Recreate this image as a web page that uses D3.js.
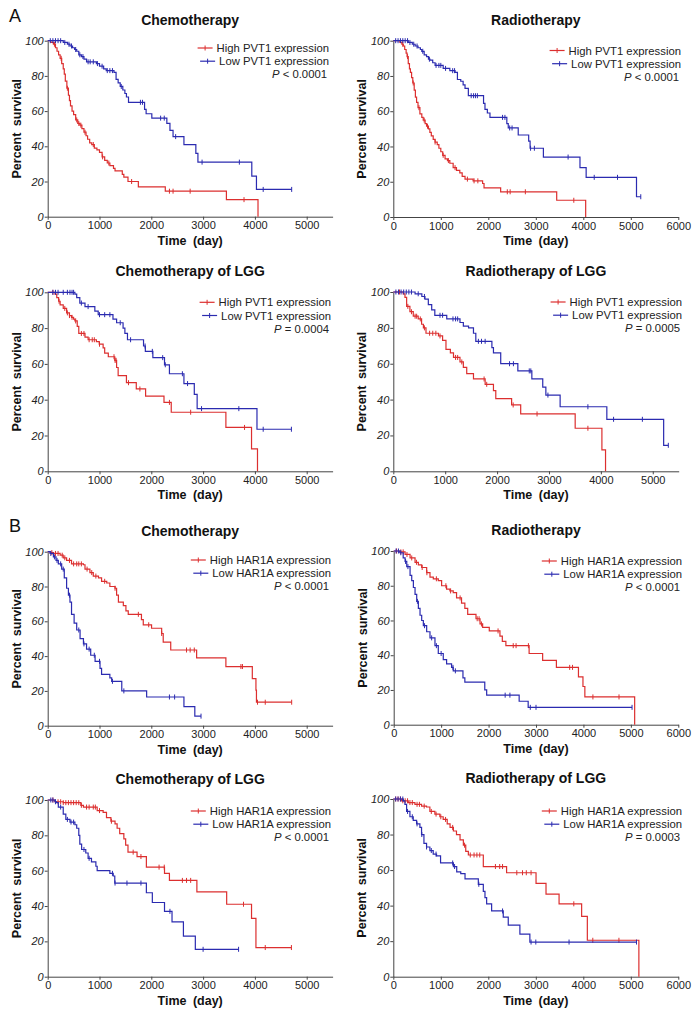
<!DOCTYPE html>
<html><head><meta charset="utf-8">
<script src="https://cdn.jsdelivr.net/npm/d3@7"></script>
<style>
html,body{margin:0;padding:0;background:#fff;}
svg{display:block;font-family:"Liberation Sans",Arial,sans-serif;}
</style></head>
<body>
<svg id="chart" width="700" height="1019"></svg>
<script>
// ---------------- DATA (time in days, survival in %) ----------------
const xTicks5000 = [0,1000,2000,3000,4000,5000];
const xTicks6000 = [0,1000,2000,3000,4000,5000,6000];
const yTicks = [0,20,40,60,80,100];
const panelTitles = ["Chemotherapy","Radiotherapy","Chemotherapy of LGG","Radiotherapy of LGG",
                     "Chemotherapy","Radiotherapy","Chemotherapy of LGG","Radiotherapy of LGG"];
const pLabels = ["< 0.0001","< 0.0001","= 0.0004","= 0.0005","< 0.0001","< 0.0001","< 0.0001","= 0.0003"];
const legendPVT1 = ["High PVT1 expression","Low PVT1 expression"];
const legendHAR1A = ["High HAR1A expression","Low HAR1A expression"];

// A - Chemotherapy (PVT1)
const a1HighSteps = [[60,99],[110,98],[150,96],[180,94],[210,92],[240,90],[270,87],[300,84],[320,81],[340,77],[370,73],[400,69],[420,66],[440,63],[470,60],[500,58],[540,55],[580,53],[620,52],[660,50],[700,48],[740,46],[770,44],[810,42],[850,41],[900,39],[950,38],[1000,36.5],[1050,34],[1100,32],[1150,30.5],[1200,29],[1270,27.5],[1300,26],[1440,24],[1470,22.5],[1550,20],[1750,17],[2270,14.5],[3450,9.7],[4060,0]];
const a1HighCensor = [130,260,380,560,600,640,720,880,1060,1180,1620,2350,2420,2750,3790];
const a1HighEnd = 4060;
const a1LowSteps = [[300,99],[380,98],[430,97],[480,96],[520,95],[560,94],[600,92],[650,91],[700,89.5],[750,88],[940,87],[1000,85.5],[1080,84],[1130,83],[1280,82],[1320,78],[1360,76],[1400,74],[1450,72],[1490,70],[1520,68],[1560,65],[1870,61],[1900,58.5],[2010,56],[2300,53],[2360,49],[2420,45.5],[2630,41],[2860,36],[2900,31],[3940,23],[4030,15.5]];
const a1LowCensor = [50,100,150,200,250,330,410,460,540,620,680,780,820,880,960,1050,1150,1200,1250,1420,1790,1830,2180,2250,2470,2980,3700,4160,4710];
const a1LowEnd = 4710;

// A - Radiotherapy (PVT1)
const a2HighSteps = [[140,99],[180,98],[210,97],[240,95],[270,93],[290,91],[315,87],[340,84],[360,82],[385,79],[410,76],[440,72],[465,68],[490,65],[520,62],[560,58.5],[600,56.5],[630,55],[670,53],[700,51.5],[740,50],[770,48],[800,46],[840,44],[880,42.5],[925,41],[960,39],[1000,37],[1040,35],[1090,33],[1140,32],[1190,30.5],[1260,28],[1330,26.5],[1400,25],[1450,23],[1510,21.5],[1680,20.5],[1880,19],[1910,16.5],[2260,14.3],[3440,9.5],[4050,0]];
const a2HighCensor = [200,300,420,540,650,720,880,1050,1160,1300,1560,1700,1780,2400,2460,2780,3800];
const a2HighEnd = 4050;
const a2LowSteps = [[315,99],[400,98],[460,97],[520,96],[570,95],[600,94],[650,92],[700,91],[740,89.5],[770,89],[830,87.5],[880,86],[1050,84.3],[1190,83],[1300,82],[1350,78],[1420,77],[1470,75],[1510,73],[1580,68.8],[1900,64.5],[1930,61],[1980,59],[2035,56.5],[2390,53],[2420,50.5],[2630,46.5],[2850,43],[2880,39],[3160,34],[3930,28],[4060,22.5],[5120,11.5]];
const a2LowCensor = [50,100,150,200,250,300,350,430,500,620,760,900,960,1000,1100,1250,1290,1640,1690,1730,1770,2300,2350,2450,2500,2890,2970,3680,4230,4720,5210];
const a2LowEnd = 5210;

// A - Chemotherapy of LGG (PVT1)
const a3HighSteps = [[140,99],[175,97],[210,95],[240,93],[300,91],[365,88.5],[420,87],[460,86],[500,85],[525,84],[570,81],[600,77],[720,75],[780,73.5],[940,72.5],[995,71],[1070,69],[1100,66],[1170,64],[1295,62],[1330,58],[1360,53.5],[1520,49.5],[1710,46],[1890,42],[2245,38.5],[2385,33],[3440,24.5],[3935,12.5],[4050,0]];
const a3HighCensor = [100,220,330,380,420,470,540,650,700,800,860,900,1000,1280,1300,1320,1560,1780,2350,2760,3800];
const a3HighEnd = 4050;
const a3LowSteps = [[525,99],[560,97],[620,94],[720,92],[910,89.5],[975,87.5],[1260,85],[1330,83],[1455,80],[1490,77],[1540,73.5],[1850,70],[1885,67],[2030,63.5],[2255,59.5],[2350,54.5],[2630,49],[2830,43],[2885,35],[4040,23.5]];
const a3LowCensor = [100,150,200,300,380,430,470,500,650,780,1000,1100,1200,1400,1600,1880,2020,2220,2270,2600,2700,2970,3690,4160,4705];
const a3LowEnd = 4705;

// A - Radiotherapy of LGG (PVT1)
const a4HighSteps = [[190,99],[225,97],[257,92],[320,89],[385,86.5],[480,85],[545,82],[580,80],[630,77],[870,75.5],[950,73],[1015,68],[1100,66],[1160,63.5],[1285,61],[1350,58],[1415,54.5],[1545,51.5],[1770,48.5],[1930,45],[1975,40.5],[2280,37],[2455,32],[3505,24],[4020,12],[4090,0]];
const a4HighCensor = [120,280,350,420,450,520,600,700,760,820,900,1200,1240,1320,1750,1800,2310,2770,3750];
const a4HighEnd = 4090;
const a4LowSteps = [[420,99],[550,97.5],[610,96],[675,93],[740,90],[800,87],[1030,85],[1285,83],[1350,81],[1450,80],[1545,77],[1590,72.5],[1900,69],[1930,66],[2070,60],[2400,56],[2670,51.5],[2880,47],[2940,42.5],[3215,36],[4115,29],[5210,14.5]];
const a4LowCensor = [50,100,150,200,250,300,350,480,600,900,950,1150,1200,1240,1640,1700,1770,2240,2315,2620,2650,2980,3750,4245,4800,5300];
const a4LowEnd = 5300;

// B - Chemotherapy (HAR1A)
const b1HighSteps = [[50,99.5],[110,99],[240,98],[300,96.5],[365,95],[460,93],[690,92.5],[720,90],[815,88],[880,86],[980,85],[1040,83],[1140,82],[1200,80],[1300,79],[1330,75],[1365,71],[1460,69],[1510,66],[1555,64],[1810,61],[1845,58],[2005,56],[2200,53],[2230,48],[2375,43.5],[2875,39],[3440,34],[3950,27],[4020,20.5],[4030,13.5]];
const b1HighCensor = [80,150,200,280,330,420,500,560,600,650,760,850,930,1100,1300,1750,1950,2200,2680,2750,2830,3730,3760,4050,4200,4710];
const b1HighEnd = 4710;
const b1LowSteps = [[45,99],[110,97],[160,95],[205,93],[270,90],[320,85],[365,79],[400,75],[430,71],[460,64],[510,59],[560,55],[625,50],[690,47],[750,44],[830,40.5],[915,37],[1010,33],[1040,29.5],[1200,27.5],[1235,25.5],[1430,20],[1910,16.5],[2630,11],[2840,5.5]];
const b1LowCensor = [60,130,180,250,300,420,600,700,800,900,1000,1250,1470,2350,2450,2960];
const b1LowEnd = 2960;

// B - Radiotherapy (HAR1A)
const b2HighSteps = [[130,99.5],[240,98],[345,96],[450,93.5],[520,92],[590,90.5],[695,87.5],[765,85],[835,84],[940,83],[1010,80],[1115,78],[1185,77],[1255,76],[1325,73],[1430,70],[1500,67],[1560,63.5],[1735,61],[1820,58],[1875,56],[2015,54],[2240,51],[2290,48],[2365,45.5],[2855,41],[3140,37],[3430,33],[3895,27.5],[3990,22],[4030,16],[5080,0]];
const b2HighCensor = [60,150,200,280,380,480,600,700,900,1100,1200,1400,1760,1800,1850,2200,2520,2580,2840,3710,3770,4200,4750];
const b2HighEnd = 5080;
const b2LowSteps = [[130,99],[200,96],[240,94],[275,91],[345,86],[380,83],[415,79],[450,75],[485,71],[520,67],[555,63],[590,60],[625,57],[695,53.5],[765,50],[870,45.5],[940,41],[1045,37.5],[1115,35],[1220,33],[1255,31],[1460,27],[1500,24.5],[1920,20],[1960,17],[2645,13.5],[2835,10]];
const b2LowCensor = [50,100,150,250,300,500,650,800,900,1000,1250,1300,2350,2450,2880,3000,5025];
const b2LowEnd = 5025;

// B - Chemotherapy of LGG (HAR1A)
const b3HighSteps = [[140,99],[300,98.5],[640,97],[690,96],[955,94],[1070,93],[1135,90],[1220,88],[1300,86.5],[1340,84],[1390,81],[1470,78],[1505,74.5],[1550,70.5],[1725,68],[1905,62],[2255,58.5],[2350,54.5],[2880,48],[3455,41],[3935,33],[4020,16.5]];
const b3HighCensor = [100,200,250,300,350,400,450,500,550,600,650,750,800,880,920,1000,1230,1650,1800,2150,2250,2600,2680,2760,3780,4200,4705];
const b3HighEnd = 4705;
const b3LowSteps = [[140,99],[170,98.5],[205,96],[300,92],[350,89],[430,87.5],[525,86],[560,84],[600,80],[620,75],[655,72],[735,70],[780,67],[845,65],[930,62.5],[955,60],[1200,58.5],[1265,57],[1295,53],[1905,47.5],[2020,42],[2255,37],[2400,31],[2620,23],[2850,15.5]];
const b3LowCensor = [60,100,150,250,380,450,500,700,800,1250,1300,1530,1800,2360,3000,3685];
const b3LowEnd = 3685;

// B - Radiotherapy of LGG (HAR1A)
const b4HighSteps = [[175,99],[315,98],[455,97],[595,96],[700,95.5],[770,93],[875,91.5],[980,90],[1050,88.5],[1135,86],[1195,84],[1265,82],[1330,80],[1405,77],[1475,74],[1525,70.5],[1580,68.5],[1895,62],[2385,58.5],[3005,52.5],[3215,46.5],[3490,41],[3965,34],[4085,20.5],[5170,0]];
const b4HighCensor = [50,100,150,200,250,300,350,400,500,550,650,800,900,1000,1100,1250,1500,1620,1700,1760,1820,2150,2240,2300,2600,2720,2800,2900,3800,4200,4750];
const b4HighEnd = 5170;
const b4LowSteps = [[210,99],[245,97],[280,93],[350,90],[420,88],[490,86],[560,84],[595,80],[645,75],[700,73],[770,71],[840,69],[910,68],[995,64],[1265,62],[1335,59],[1420,58],[1510,55],[1790,52],[1895,48],[1930,44.5],[1965,41],[2070,37],[2315,33.5],[2420,29],[2665,24],[2875,19.5]];
const b4LowCensor = [50,100,150,200,300,400,500,600,700,800,900,1250,1290,1800,2300,2900,3000,3700,5120];
const b4LowEnd = 5120;

// ---------------- LAYOUT ----------------
const panels = [
  {x0:47.7, x1:332.6, xMax:5500, ticks:xTicks5000, yTop:40.7,  yBot:216.7, legend:legendPVT1,  right:329, legY:48,  high:[a1HighSteps,a1HighCensor,a1HighEnd], low:[a1LowSteps,a1LowCensor,a1LowEnd]},
  {x0:393.3,x1:678.3, xMax:6000, ticks:xTicks6000, yTop:40.7,  yBot:217,   legend:legendPVT1,  right:681, legY:50.5,high:[a2HighSteps,a2HighCensor,a2HighEnd], low:[a2LowSteps,a2LowCensor,a2LowEnd]},
  {x0:47.7, x1:332.6, xMax:5500, ticks:xTicks5000, yTop:292.3, yBot:471.3, legend:legendPVT1,  right:331, legY:302.3,high:[a3HighSteps,a3HighCensor,a3HighEnd], low:[a3LowSteps,a3LowCensor,a3LowEnd]},
  {x0:393.3,x1:678.7, xMax:5500, ticks:xTicks5000, yTop:292,   yBot:471.3, legend:legendPVT1,  right:682, legY:302, high:[a4HighSteps,a4HighCensor,a4HighEnd], low:[a4LowSteps,a4LowCensor,a4LowEnd]},
  {x0:47.7, x1:332.6, xMax:5500, ticks:xTicks5000, yTop:551.7, yBot:725.7, legend:legendHAR1A, right:331, legY:560, high:[b1HighSteps,b1HighCensor,b1HighEnd], low:[b1LowSteps,b1LowCensor,b1LowEnd]},
  {x0:393.7,x1:678.3, xMax:6000, ticks:xTicks6000, yTop:551,   yBot:724.7, legend:legendHAR1A, right:682, legY:561, high:[b2HighSteps,b2HighCensor,b2HighEnd], low:[b2LowSteps,b2LowCensor,b2LowEnd]},
  {x0:47.7, x1:332.6, xMax:5500, ticks:xTicks5000, yTop:800,   yBot:976.7, legend:legendHAR1A, right:331, legY:811, high:[b3HighSteps,b3HighCensor,b3HighEnd], low:[b3LowSteps,b3LowCensor,b3LowEnd]},
  {x0:393.3,x1:678.3, xMax:6000, ticks:xTicks6000, yTop:799,   yBot:976.7, legend:legendHAR1A, right:682, legY:811, high:[b4HighSteps,b4HighCensor,b4HighEnd], low:[b4LowSteps,b4LowCensor,b4LowEnd]}
];

const RED = "#dc2f2f", BLUE = "#2b2bb0";
const svg = d3.select("#chart");

svg.append("text").attr("x",9).attr("y",22).attr("font-size",18).attr("fill","#111").text("A");
svg.append("text").attr("x",9).attr("y",532).attr("font-size",18).attr("fill","#111").text("B");

function survAt(steps, t){
  let s = 100;
  for (const [tt, ss] of steps){ if (tt <= t) s = ss; else break; }
  return s;
}

panels.forEach((p, i) => {
  const g = svg.append("g");
  const x = d3.scaleLinear().domain([0, p.xMax]).range([p.x0, p.x1]);
  const y = d3.scaleLinear().domain([0, 100]).range([p.yBot, p.yTop]);

  // axes
  const ya = g.append("g").attr("transform",`translate(${p.x0},0)`)
    .call(d3.axisLeft(y).tickValues(yTicks).tickFormat(d3.format("d")).tickSize(3).tickSizeOuter(0).tickPadding(1));
  ya.selectAll("text").attr("font-size",11).attr("font-style","italic").attr("fill","#222")
    .attr("font-family",'"Liberation Sans",Arial,sans-serif');
  const xa = g.append("g").attr("transform",`translate(0,${p.yBot})`)
    .call(d3.axisBottom(x).tickValues(p.ticks).tickFormat(d3.format("d")).tickSize(3).tickSizeOuter(0).tickPadding(2));
  xa.selectAll("text").attr("font-size",11).attr("fill","#222")
    .attr("font-family",'"Liberation Sans",Arial,sans-serif');
  g.selectAll(".domain").attr("stroke","#444").attr("stroke-width",1);
  g.selectAll(".tick line").attr("stroke","#444");

  // titles
  const cx = (p.x0 + p.x1) / 2;
  g.append("text").attr("x",cx).attr("y",p.yTop - 16).attr("text-anchor","middle")
    .attr("font-size",14).attr("font-weight","bold").attr("fill","#111").text(panelTitles[i]);
  g.append("text").attr("x",cx).attr("y",p.yBot + 28).attr("text-anchor","middle")
    .attr("font-size",12.5).attr("font-weight","bold").attr("fill","#111")
    .attr("word-spacing",3).text("Time (day)");
  g.append("text").attr("transform",`translate(${p.x0 - 27},${(p.yTop + p.yBot) / 2}) rotate(-90)`)
    .attr("text-anchor","middle").attr("font-size",12.5).attr("font-weight","bold").attr("fill","#111")
    .attr("word-spacing",3).text("Percent survival");

  // curves
  const line = d3.line().x(d => x(d[0])).y(d => y(d[1])).curve(d3.curveStepAfter);
  [[p.high, RED], [p.low, BLUE]].forEach(([ser, col]) => {
    const [steps, cens, end] = ser;
    const pts = [[0,100], ...steps];
    const last = pts[pts.length - 1];
    if (end > last[0]) pts.push([end, last[1]]);
    g.append("path").attr("d", line(pts)).attr("fill","none").attr("stroke",col).attr("stroke-width",1.2);
    g.selectAll(null).data(cens).enter().append("line")
      .attr("x1", d => x(d)).attr("x2", d => x(d))
      .attr("y1", d => y(survAt(steps, d)) - 2.5).attr("y2", d => y(survAt(steps, d)) + 2.5)
      .attr("stroke", col).attr("stroke-width",1);
  });

  // legend
  const fs = 11.3;
  [[p.legend[0], RED], [p.legend[1], BLUE]].forEach(([lab, col], k) => {
    const ty = p.legY + k * 13.2;
    const t = g.append("text").attr("x", p.right).attr("y", ty + 4).attr("text-anchor","end")
      .attr("font-size", fs).attr("fill","#222").text(lab);
    const w = t.node().getComputedTextLength();
    const lx1 = p.right - w - 4, lx0 = lx1 - 15;
    g.append("line").attr("x1",lx0).attr("x2",lx1).attr("y1",ty).attr("y2",ty).attr("stroke",col).attr("stroke-width",1.2);
    g.append("line").attr("x1",(lx0+lx1)/2).attr("x2",(lx0+lx1)/2).attr("y1",ty-2.5).attr("y2",ty+2.5).attr("stroke",col).attr("stroke-width",1);
  });
  const pt = g.append("text").attr("x", p.right - 2).attr("y", p.legY + 2 * 13.2 + 4).attr("text-anchor","end")
    .attr("font-size", fs).attr("fill","#222");
  pt.append("tspan").attr("font-style","italic").text("P");
  pt.append("tspan").text(" " + pLabels[i]);
});
</script>
</body></html>
